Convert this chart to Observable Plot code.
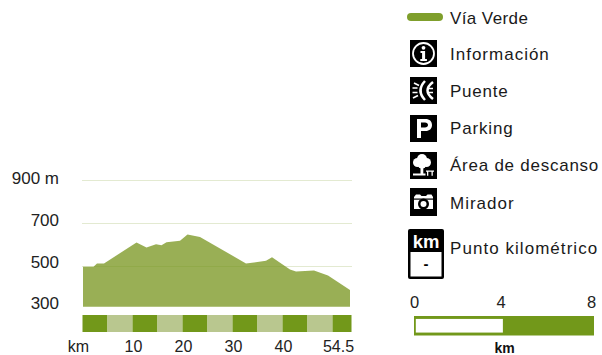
<!DOCTYPE html>
<html><head><meta charset="utf-8">
<script src="https://cdn.jsdelivr.net/npm/d3@7"></script>
<script src="https://cdn.jsdelivr.net/npm/@observablehq/plot@0.6"></script>
<style>
html,body{margin:0;padding:0;background:#fff}
#wrap{position:relative;width:602px;height:355px;overflow:hidden}
#wrap>svg{position:absolute;left:0;top:0}
.lab{position:absolute;left:450px;font:17px "Liberation Sans",sans-serif;color:#1a1a1a;white-space:nowrap;line-height:20px}
.ico{position:absolute}
</style></head><body><div id="wrap"></div>
<script>
const kmValues = [0,2.1,2.8,4.2,10.7,12.7,14.6,15.7,16.7,19.4,20.9,23.4,32.6,36.6,37.8,41.4,42.6,46.2,49,53.4];
const elevValues = [497,497,512,512,609,586,601,597,610,618,646,635,512,524,541,484,475,479,456,388];
const stripeEdges = [0,5,10,15,20,25,30,35,40,45,50,53.8];
const gridValues = [900,700,500];
const elevLabels = ["900 m","700","500","300"];
const elevLabelAt = [909,714,519,328];
const kmLabels = ["km","10","20","30","40","54.5"];
const kmLabelAt = [-1,10,20,30,40,51];
const legendNames = ["Vía Verde","Información","Puente","Parking","Área de descanso","Mirador","Punto kilométrico"];
const legendTops = [9,45,82,119,156,194,239];
const legendSpacing = [.4,1,.75,.85,.75,1,1.05];
const scaleTicks = [0,4,8];
const scaleTickAt = [0,3.85,7.87];

const GREEN = "#72981a", AREA = "#729013", LIGHT = "#b9c78f", FONT = "Liberation Sans";
const baseY = 311;
const profile = kmValues.map((k,i)=>({k,e:elevValues[i]}));
const stripes = stripeEdges.slice(0,-1).map((a,i)=>({a,b:stripeEdges[i+1],i}));
const xS = {domain:[0,54.5],range:[83,355.5],axis:null};
const yS = {domain:[300,900],range:[309,180],axis:null};
const base = {width:602,height:355,margin:0,style:{background:"transparent",fontFamily:FONT}};

const chart = Plot.plot({...base,x:xS,y:yS,
  marks:[
    Plot.areaY(profile,{x:"k",y1:baseY,y2:"e",fill:AREA,fillOpacity:.72}),
    Plot.ruleY(gridValues,{x1:-0.2,x2:53.8,stroke:GREEN,strokeOpacity:.2,strokeWidth:1.2}),
    Plot.text(elevLabels,{x:()=>-4.9,y:(d,i)=>elevLabelAt[i],text:d=>d,textAnchor:"end",fontSize:17,fill:"#222"}),
    Plot.text(kmLabels,{x:(d,i)=>kmLabelAt[i],y:()=>124,text:d=>d,fontSize:16,fill:"#222"})
  ]
});
const stripeChart = Plot.plot({...base,
  x:{domain:[0,54.5],range:[82.5,355],axis:null},
  y:{domain:[0,1],range:[332,315],axis:null},
  marks:[Plot.rectX(stripes,{x1:"a",x2:"b",y1:0,y2:1,fill:d=>d.i%2?LIGHT:GREEN})]
});
const scaleBar = Plot.plot({...base,
  x:{domain:[0,8],range:[414,594],axis:null},
  y:{domain:[0,1],range:[335.5,316],axis:null},
  marks:[
    Plot.rectX([0],{x1:0,x2:8,y1:0,y2:1,fill:GREEN}),
    Plot.rectX([0],{x1:0.08,x2:3.95,y1:.15,y2:.85,fill:"#fff"}),
    Plot.text(scaleTicks,{x:(d,i)=>scaleTickAt[i],y:()=>1.73,text:d=>String(d),fontSize:16.5,fill:"#222"}),
    Plot.text(["km"],{x:()=>4.0,y:()=>-0.65,text:d=>d,fontSize:14,fontWeight:"bold",fill:"#111"})
  ]
});
const wrap=document.getElementById("wrap");
[chart,stripeChart,scaleBar].forEach(n=>wrap.appendChild(n));

legendNames.forEach((t,i)=>{
  const d=document.createElement("div");d.className="lab";d.textContent=t;d.style.top=legendTops[i]+"px";
  d.style.letterSpacing=legendSpacing[i]+"px";
  wrap.appendChild(d);
});
const icons=[
 [410,40,27,27,`<rect width="27" height="27" fill="#000"/><circle cx="13.5" cy="13.5" r="10.5" fill="none" stroke="#fff" stroke-width="1.8"/><circle cx="13.5" cy="7.8" r="1.9" fill="#fff"/><path d="M10.500 11h4.600v8h1.800v2h-6.600v-2h1.800v-6h-1.600z" fill="#fff"/>`],
 [410,77,27,27,`<rect width="27" height="27" fill="#000"/><g fill="none" stroke="#fff" stroke-width="2.500"><path d="M15 4Q6 13.500 15 23"/><path d="M23 5Q12 13.500 23 22"/></g><g stroke="#fff" stroke-width="1.700"><path d="M4 6l5 2.500M2.500 11h5M2.500 15.500h5M3 21l5-2.500M17 11.500h6M17 15.500h6"/></g>`],
 [410,115,27,27,`<rect width="27" height="27" fill="#000"/><path fill="#fff" fill-rule="evenodd" d="M7 4h8.500c4 0 6.500 2.300 6.500 6s-2.500 6-6.500 6H11v7H7zM11 7.500V12.500h4c1.800 0 3-1 3-2.500s-1.200-2.500-3-2.500z"/>`],
 [410,152,27,27,`<rect width="27" height="27" fill="#000"/><g fill="#fff"><circle cx="12" cy="7" r="5"/><circle cx="7.500" cy="10.500" r="4.500"/><circle cx="16.500" cy="10.500" r="4.500"/><circle cx="12" cy="12" r="4.500"/><path d="M10.500 12h2.800v9.500h-2.800zM3 21.500h12.500v2H3zM16 18.500h8v1.300h-8zM17 19.800h1.300v4H17zM21.500 19.800h1.300v4h-1.300z"/></g>`],
 [410,188,27,28,`<rect width="27" height="28" fill="#000"/><path fill="#fff" d="M4 21V9l2-2.500h4L11.500 8h4.500l1.500-1.500h4L23 9v12z"/><rect x="4" y="10.500" width="19" height="1.200" fill="#000"/><circle cx="13.500" cy="16" r="5.500" fill="#000"/><circle cx="13.500" cy="16" r="3" fill="#fff"/>`],
 [408,229,36,50,`<rect width="36" height="50" rx="2" fill="#000"/><rect x="2.500" y="23" width="31" height="24.500" fill="#fff"/><text x="18" y="19" text-anchor="middle" font-family="Liberation Sans" font-weight="bold" font-size="18.500" fill="#fff">km</text><text x="18" y="39.500" text-anchor="middle" font-family="Liberation Sans" font-weight="bold" font-size="15" fill="#000">-</text>`],
 [407,13,36,8,`<rect width="36" height="8" rx="4" fill="#7f9f2c"/>`]
];
icons.forEach(([x,y,w,h,s])=>{
  const d=document.createElement("div");d.className="ico";d.style.cssText=`left:${x}px;top:${y}px;width:${w}px;height:${h}px`;
  d.innerHTML=`<svg width="${w}" height="${h}" viewBox="0 0 ${w} ${h}" style="display:block">${s}</svg>`;wrap.appendChild(d);
});
</script></body></html>
